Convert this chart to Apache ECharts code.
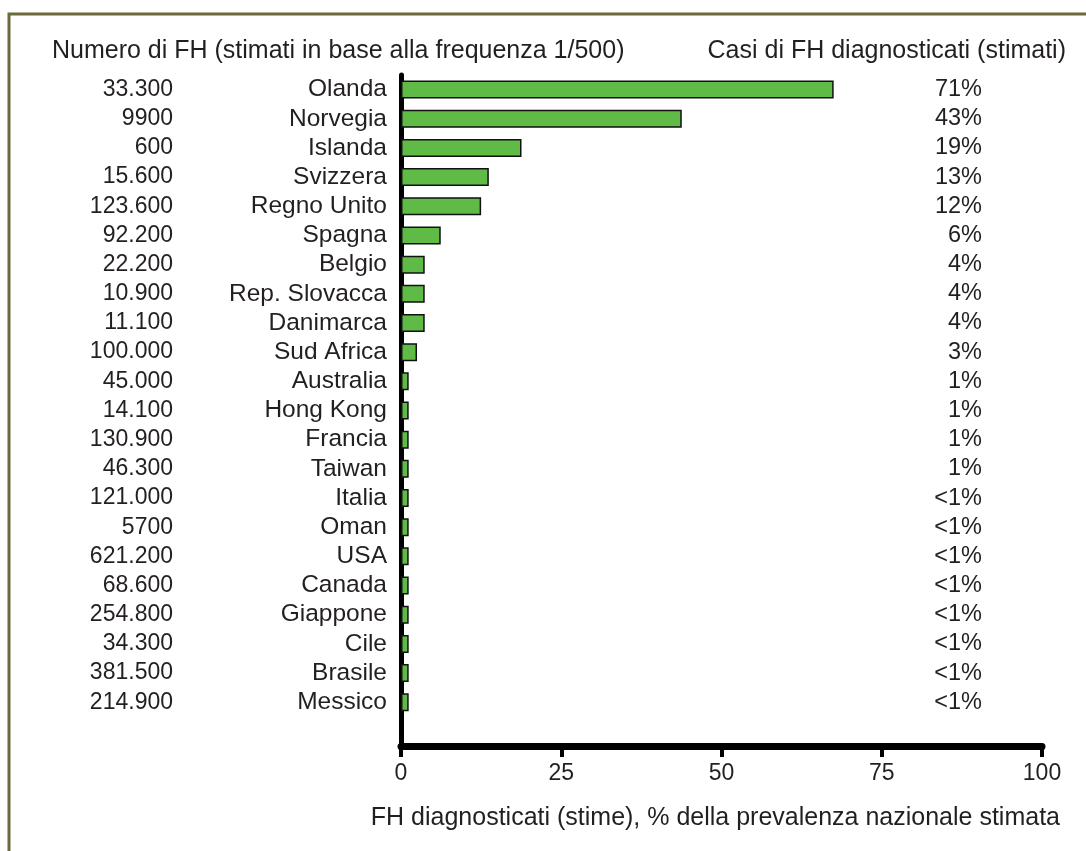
<!DOCTYPE html>
<html lang="it">
<head>
<meta charset="UTF-8" />
<title>FH diagnosticati</title>
<style>
  * { box-sizing: border-box; margin: 0; padding: 0; }
  html, body { background: #fff; }
  #chart { width: 1086px; height: 851px; }
</style>
</head>
<body>
<div id="chart"></div>
<script src="https://cdn.jsdelivr.net/npm/echarts@6/dist/echarts.min.js"></script>
<script>
// data
var countries = ['Olanda', 'Norvegia', 'Islanda', 'Svizzera', 'Regno Unito', 'Spagna', 'Belgio',
  'Rep. Slovacca', 'Danimarca', 'Sud Africa', 'Australia', 'Hong Kong', 'Francia', 'Taiwan',
  'Italia', 'Oman', 'USA', 'Canada', 'Giappone', 'Cile', 'Brasile', 'Messico'];
var fhCounts = ['33.300', '9900', '600', '15.600', '123.600', '92.200', '22.200', '10.900',
  '11.100', '100.000', '45.000', '14.100', '130.900', '46.300', '121.000', '5700', '621.200',
  '68.600', '254.800', '34.300', '381.500', '214.900'];
var pctLabels = ['71%', '43%', '19%', '13%', '12%', '6%', '4%', '4%', '4%', '3%', '1%', '1%',
  '1%', '1%', '<1%', '<1%', '<1%', '<1%', '<1%', '<1%', '<1%', '<1%'];
var barValues = [67.5, 43.8, 18.8, 13.7, 12.5, 6.2, 3.7, 3.7, 3.7, 2.5, 1.2, 1.2, 1.2, 1.2,
  1.2, 1.2, 1.2, 1.2, 1.2, 1.2, 1.2, 1.2];
var xTicks = [0, 25, 50, 75, 100];

var FONT = '"Liberation Sans", Arial, Helvetica, sans-serif';
var TXT = '#231f20';

// one empty row below the last country leaves the gap above the x axis
var cats = countries.concat(['']);
var idx = cats.map(function (c, i) { return i; });

var headStyle = { fontFamily: FONT, fontSize: 25, fontWeight: 'normal', color: TXT };

var chart = echarts.init(document.getElementById('chart'));
chart.setOption({
  animation: false,
  textStyle: { fontFamily: FONT },
  grid: { left: 401, right: 44, top: 75, bottom: 105 },
  title: [{
    text: 'Numero di FH (stimati in base alla frequenza 1/500)',
    left: 52, top: 39, padding: 0, textStyle: headStyle
  }, {
    text: 'Casi di FH diagnosticati (stimati)',
    right: 20, top: 39, padding: 0, textStyle: headStyle
  }, {
    text: 'FH diagnosticati (stime), % della prevalenza nazionale stimata',
    right: 26, top: 806, padding: 0, textStyle: headStyle
  }],
  xAxis: {
    type: 'value', min: 0, max: 100, interval: 25,
    axisLine: { show: true, lineStyle: { color: '#000', width: 7 } },
    axisTick: { show: true, length: 11, lineStyle: { color: '#000', width: 4 } },
    splitLine: { show: false },
    axisLabel: {
      margin: 16, fontSize: 23, color: TXT, fontFamily: FONT,
      formatter: function (v) { return xTicks.indexOf(v) >= 0 ? String(v) : ''; }
    }
  },
  yAxis: [{
    type: 'category', data: cats, inverse: true,
    axisLine: { show: true, lineStyle: { color: '#000', width: 5 } },
    axisTick: { show: false },
    axisLabel: { interval: 0, margin: 14, fontSize: 24.5, color: TXT, fontFamily: FONT }
  }, {
    type: 'category', data: idx, inverse: true, position: 'left', offset: 228,
    axisLine: { show: false }, axisTick: { show: false },
    axisLabel: {
      interval: 0, margin: 0, fontSize: 23, color: TXT, fontFamily: FONT,
      formatter: function (v) { return fhCounts[v] || ''; }
    }
  }, {
    type: 'category', data: idx, inverse: true, position: 'right', offset: -60,
    axisLine: { show: false }, axisTick: { show: false },
    axisLabel: {
      interval: 0, margin: 0, align: 'right', fontSize: 23.5, color: TXT, fontFamily: FONT,
      formatter: function (v) { return pctLabels[v] || ''; }
    }
  }],
  series: [{
    type: 'bar',
    yAxisIndex: 0,
    data: barValues,
    barWidth: 18,
    itemStyle: { color: '#5fba46', borderColor: '#111', borderWidth: 1.5 },
    z: 1
  }],
  graphic: [{
    type: 'polyline',
    shape: { points: [[9, 851], [9, 14], [1086, 14]] },
    style: { stroke: '#6b6b3c', lineWidth: 3, fill: null }
  }]
});
</script>
</body>
</html>
